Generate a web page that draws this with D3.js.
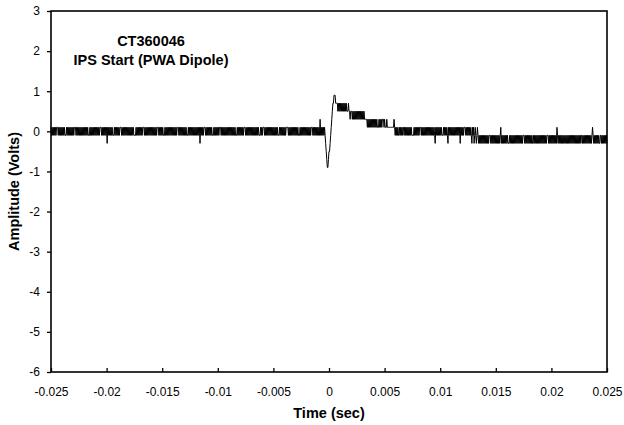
<!DOCTYPE html>
<html>
<head>
<meta charset="utf-8">
<script src="https://cdn.jsdelivr.net/npm/d3@7"></script>
<style>
  body { margin: 0; background: #fff; }
  svg { display: block; }
  text { font-family: Arial, "Liberation Sans", sans-serif; fill: #000; }
</style>
</head>
<body>
<svg id="chart" width="624" height="425"></svg>
<script>
// Chart text
const titleLines = ["CT360046", "IPS Start (PWA Dipole)"];
const xAxisTitle = "Time (sec)";
const yAxisTitle = "Amplitude (Volts)";

// Axis ticks
const xTickValues = [-0.025, -0.02, -0.015, -0.01, -0.005, 0, 0.005, 0.01, 0.015, 0.02, 0.025];
const xTickLabels = ["-0.025", "-0.02", "-0.015", "-0.01", "-0.005", "0", "0.005", "0.01", "0.015", "0.02", "0.025"];
const yTickValues = [3, 2, 1, 0, -1, -2, -3, -4, -5, -6];
const yTickLabels = ["3", "2", "1", "0", "-1", "-2", "-3", "-4", "-5", "-6"];

// Digitiser record: first sample time and sample spacing (s)
const startTime = -0.025;
const sampleInterval = 0.00005;

// Quantised amplitude levels (V); each sample below is an index into this list
const levelVolts = [-0.9, -0.7, -0.5, -0.3, -0.1, 0.1, 0.3, 0.5, 0.7, 0.9];

// Pre-trigger baseline samples
const baselineCodes = [
  "54545454545554545454", "54545444545454545454", "54555454545454545454",
  "54545454445454545454", "54545454555454545454", "53545454545444545454",
  "54545554545454545454", "54545454544445454545", "45454555454545454545",
  "45454545454555454545", "45444545454545454545", "45454545554545454545",
  "45454445454545454545", "45454545354545455545", "45454545454445454545",
  "45455545454545454545", "45454545454544454545", "45454545554545454545",
  "45454545454545444545", "45554545454545454545", "45454545444545454545",
  "45455554545454545454", "54545444545454545454", "54545454555454545454",
  "545464545454"
];

// Start pulse and its decay
const pulseCodes = [
  "543210012234567889998888", "78787878787878787", "778776777",
  "67676767676767676767676", "6666", "565656565656565656", "555",
  "656565", "666", "56", "555", "6", "555555555555", "6", "5"
];

// Post-pulse tail samples
const tailCodes = [
  "454545445454545545454", "54545454544445454545", "45455545454545454545",
  "45454545454354545454", "54544454545454354545", "45454545454545453545",
  "45455545454545454354", "53454345434343434343", "43434343444343434343",
  "43434343453434343434", "34333434343434343434", "34343434344434343434",
  "34343433434343434343", "43434343434344434343", "43434343435434343434",
  "34343343434343434343", "43434343434343443434", "34343434343434543434",
  "34343433443434343434", "3"
];

const sampleCodes = baselineCodes.concat(pulseCodes, tailCodes).join("");
const samples = Array.from(sampleCodes, (c, i) => ({
  t: startTime + i * sampleInterval,
  v: levelVolts[+c]
}));

const svg = d3.select("#chart");
const plot = { left: 51, right: 607, top: 11, bottom: 372 };

const x = d3.scaleLinear().domain([-0.025, 0.025]).range([plot.left, plot.right]);
const y = d3.scaleLinear().domain([-6, 3]).range([plot.bottom, plot.top]);

// Waveform
svg.append("path")
  .datum(samples)
  .attr("fill", "none")
  .attr("stroke", "#000")
  .attr("stroke-width", 1)
  .attr("stroke-linejoin", "bevel")
  .attr("d", d3.line().x(d => x(d.t)).y(d => y(d.v)));

// Y axis
const yAxis = svg.append("g")
  .attr("transform", `translate(${plot.left},0)`)
  .call(d3.axisLeft(y)
    .tickValues(yTickValues)
    .tickFormat((d, i) => yTickLabels[i])
    .tickSizeInner(4)
    .tickSizeOuter(0)
    .tickPadding(7));
yAxis.select(".domain").remove();
yAxis.selectAll(".tick line").attr("stroke", "#000").attr("stroke-width", 1.3);
yAxis.selectAll(".tick text")
  .attr("font-family", "Arial, 'Liberation Sans', sans-serif")
  .attr("font-size", 12)
  .attr("fill", "#000");

// X axis (ticks point into the plot)
const xAxis = svg.append("g")
  .attr("transform", `translate(0,${plot.bottom})`)
  .call(d3.axisBottom(x)
    .tickValues(xTickValues)
    .tickFormat((d, i) => xTickLabels[i])
    .tickSizeInner(-4)
    .tickSizeOuter(0));
xAxis.select(".domain").remove();
xAxis.selectAll(".tick line").attr("stroke", "#000").attr("stroke-width", 1.3);
xAxis.selectAll(".tick text")
  .attr("font-family", "Arial, 'Liberation Sans', sans-serif")
  .attr("font-size", 12)
  .attr("fill", "#000")
  .attr("y", 24)
  .attr("dy", null);

// Plot frame
svg.append("rect")
  .attr("x", plot.left)
  .attr("y", plot.top)
  .attr("width", plot.right - plot.left)
  .attr("height", plot.bottom - plot.top)
  .attr("fill", "none")
  .attr("stroke", "#000")
  .attr("stroke-width", 1.6);

// Axis titles
svg.append("text")
  .attr("x", (plot.left + plot.right) / 2)
  .attr("y", 418)
  .attr("text-anchor", "middle")
  .attr("font-size", 14.5)
  .attr("font-weight", "bold")
  .text(xAxisTitle);

svg.append("text")
  .attr("transform", `translate(19,${(plot.top + plot.bottom) / 2}) rotate(-90)`)
  .attr("text-anchor", "middle")
  .attr("font-size", 14.5)
  .attr("font-weight", "bold")
  .text(yAxisTitle);

// Chart title
svg.append("g")
  .selectAll("text")
  .data(titleLines)
  .join("text")
  .attr("x", 151)
  .attr("y", (d, i) => 45.5 + i * 19.5)
  .attr("text-anchor", "middle")
  .attr("font-size", 14.5)
  .attr("font-weight", "bold")
  .text(d => d);
</script>
</body>
</html>
